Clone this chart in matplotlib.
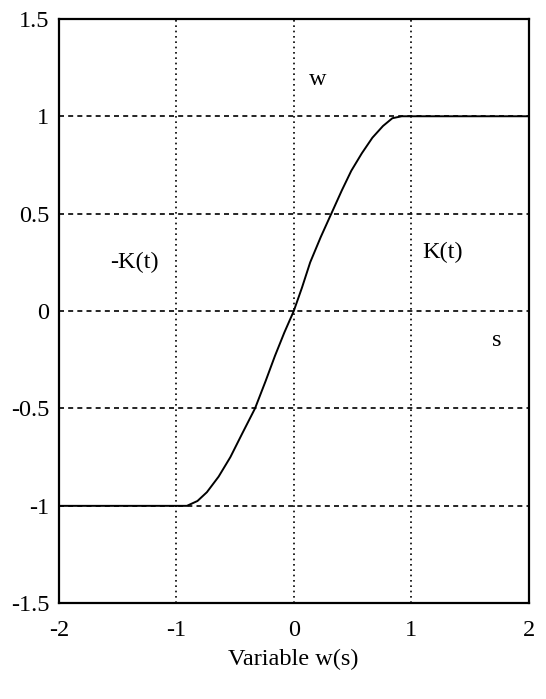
import matplotlib.pyplot as plt

# values
w_vals = [-2.0, -1.0, -0.91, -0.82, -0.74, -0.64, -0.54, -0.44, -0.33, -0.24, -0.16, -0.08,
          0.0, 0.07, 0.14, 0.23, 0.32, 0.41, 0.49, 0.58, 0.67, 0.76, 0.84, 0.92, 2.0]
k_vals = [-1.0, -1.0, -1.0, -0.975, -0.93, -0.85, -0.75, -0.63, -0.5, -0.36, -0.23, -0.11,
          0.0, 0.12, 0.25, 0.38, 0.5, 0.62, 0.72, 0.81, 0.89, 0.95, 0.99, 1.0, 1.0]
xticks = [-2, -1, 0, 1, 2]
yticks = [-1.5, -1, -0.5, 0, 0.5, 1, 1.5]
ytick_labels = ['-1.5', '-1', '-0.5', '0', '0.5', '1', '1.5']
notes = [('w', 0.2, 1.19), ('-K(t)', -1.36, 0.25), ('K(t)', 1.27, 0.30), ('s', 1.73, -0.15)]

plt.rcParams['font.family'] = ['Liberation Serif', 'DejaVu Serif']

fig = plt.figure(figsize=(5.46, 6.99), dpi=100)
ax = fig.add_axes([0.108, 0.137, 0.860, 0.836])

ax.plot(w_vals, k_vals, color='black', lw=1.4)

ax.set_xlim(-2, 2)
ax.set_ylim(-1.5, 1.5)
ax.set_xticks(xticks)
ax.set_xticklabels([str(t) for t in xticks])
ax.set_yticks(yticks)
ax.set_yticklabels(ytick_labels)
ax.tick_params(length=0, labelsize=17.5, colors='black')
ax.tick_params(axis='x', pad=12)
ax.tick_params(axis='y', pad=7)

for t in xticks[1:-1]:
    ax.axvline(t, color='black', lw=1.2, ls=(0, (1, 2.2)), zorder=0)
for t in yticks[1:-1]:
    ax.axhline(t, color='black', lw=1.2, ls=(0, (3, 2.5)), zorder=0)

for s in ax.spines.values():
    s.set_linewidth(1.6)
    s.set_color('black')

for txt, x, y in notes:
    ax.text(x, y, txt, fontsize=17.5, ha='center', va='center')

ax.set_xlabel('Variable w(s)', fontsize=17.5, labelpad=6)

fig.savefig('out.png', dpi=100)
